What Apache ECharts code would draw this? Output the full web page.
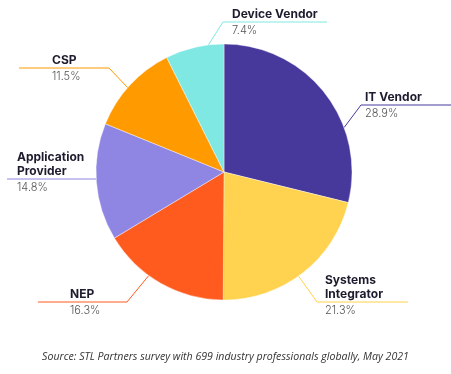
<!DOCTYPE html>
<html><head><meta charset="utf-8">
<script src="https://cdn.jsdelivr.net/npm/echarts@6/dist/echarts.min.js"></script>
<style>html,body{margin:0;padding:0;background:#fff}#c{width:451px;height:374px}</style>
</head><body><div id="c"></div>
<script>
const categories = ['IT Vendor', 'Systems Integrator', 'NEP', 'Application Provider', 'CSP', 'Device Vendor'];
const labelNames = ['IT Vendor', 'Systems\nIntegrator', 'NEP', 'Application\nProvider', 'CSP', 'Device Vendor'];
const shares = [28.9, 21.3, 16.3, 14.8, 11.5, 7.4];
const colors = ['#47389C', '#FFD24F', '#FF5B1F', '#8E86E2', '#FF9A00', '#7FE8E2'];
const sourceNote = 'Source: STL Partners survey with 699 industry professionals globally, May 2021';

const CX = 224, CY = 172, R = 128;
// per label: [edge angle (deg clockwise from top), elbow x (null = at edge), line y, line end x, text x]
const labelGeom = [
  [69.7, 361, 105, 451, 365],
  [144.4, 317, 302, 408, 325],
  [216, 127, 302, 38, 70],
  [266.9, null, 179, 7, 17],
  [311.2, 109, 68, 19, 52],
  [353, 223, 22, 327, 232]
];

const chart = echarts.init(document.getElementById('c'), null, {renderer: 'canvas'});
chart.setOption({
  animation: false,
  backgroundColor: '#fff',
  graphic: [{
    type: 'text', left: 'center', top: 351,
    style: {text: sourceNote, fontSize: 10.6, fontStyle: 'italic', fill: '#333', fontFamily: 'Open Sans'}
  }],
  series: [{
    type: 'pie',
    center: [CX, CY],
    radius: [0, R],
    startAngle: 90,
    clockwise: true,
    avoidLabelOverlap: false,
    itemStyle: {borderColor: '#fff', borderWidth: 0.4},
    data: categories.map((c, i) => ({name: c, value: shares[i], itemStyle: {color: colors[i]}})),
    label: {
      show: true, position: 'outside',
      formatter: p => '{n|' + labelNames[p.dataIndex].split('\n').join('}\n{n|') + '}\n{p|' + shares[p.dataIndex].toFixed(1) + '%}',
      rich: {
        n: {fontFamily: 'Inter', fontWeight: 700, fontSize: 12, lineHeight: 14, color: '#1c1c2e'},
        p: {fontFamily: 'Inter', fontWeight: 300, fontSize: 11, lineHeight: 20, color: '#555'}
      }
    },
    labelLine: {show: true, length: 10, length2: 10, lineStyle: {width: 1}},
    labelLayout: function (params) {
      const g = labelGeom[params.dataIndex];
      const a = g[0] * Math.PI / 180;
      const sx = CX + R * Math.sin(a), sy = CY - R * Math.cos(a);
      const ex = g[1] === null ? sx : g[1];
      const nLines = labelNames[params.dataIndex].split('\n').length;
      return {
        x: g[4],
        y: g[2] - 1 - nLines * 14,
        align: 'left',
        verticalAlign: 'top',
        labelLinePoints: [[sx, sy], [ex, g[2]], [g[3], g[2]]]
      };
    }
  }]
});
</script></body></html>
